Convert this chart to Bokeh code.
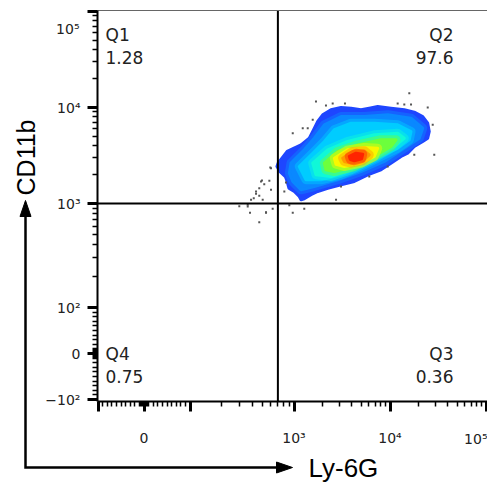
import numpy as np
from bokeh.plotting import figure
from bokeh.models import FixedTicker, Label, Range1d
from bokeh.embed import file_html
from bokeh.resources import INLINE

# ---------------- data ----------------
# quadrant gates
gate_ly6g = 700.0
gate_cd11b = 1000.0
# quadrant statistics
quad_names = ["Q1", "Q2", "Q3", "Q4"]
quad_values = ["1.28", "97.6", "0.36", "0.75"]

# density contour levels (log10 of intensity), outer -> inner
lvl1_x = [2.847, 2.934, 3.073, 3.159, 3.195, 3.247, 3.299, 3.385, 3.490, 3.594, 3.698, 3.784, 3.872, 4.010,
          4.149, 4.253, 4.341, 4.393, 4.409, 4.393, 4.341, 4.253, 4.184, 4.115, 4.010, 3.906, 3.768, 3.628,
          3.490, 3.351, 3.247, 3.177, 3.107, 3.073, 3.055, 3.003, 2.951, 2.934, 2.917, 2.865, 2.836]
lvl1_y = [3.420, 3.542, 3.611, 3.680, 3.750, 3.854, 3.924, 3.976, 4.000, 3.993, 3.976, 3.993, 4.010, 3.993,
          3.976, 3.951, 3.906, 3.836, 3.750, 3.680, 3.646, 3.594, 3.524, 3.490, 3.420, 3.351, 3.299, 3.229,
          3.195, 3.159, 3.125, 3.091, 3.049, 3.039, 3.073, 3.125, 3.159, 3.229, 3.281, 3.333, 3.385]
lvl2_x = [2.971, 3.107, 3.211, 3.316, 3.490, 3.732, 3.976, 4.219, 4.341, 4.305, 4.149, 3.941, 3.698, 3.455,
          3.211, 3.073, 2.988, 2.955]
lvl2_y = [3.420, 3.559, 3.680, 3.820, 3.906, 3.906, 3.924, 3.889, 3.784, 3.680, 3.576, 3.438, 3.333, 3.247,
          3.177, 3.143, 3.229, 3.316]
lvl3_x = [3.055, 3.195, 3.316, 3.420, 3.594, 3.836, 4.080, 4.219, 4.201, 4.080, 3.906, 3.698, 3.490, 3.281, 3.125]
lvl3_y = [3.385, 3.524, 3.646, 3.768, 3.836, 3.836, 3.820, 3.750, 3.664, 3.576, 3.490, 3.385, 3.299, 3.247, 3.247]
lvl4_x = [3.195, 3.351, 3.559, 3.836, 4.080, 4.149, 4.045, 3.836, 3.594, 3.385, 3.229]
lvl4_y = [3.420, 3.559, 3.646, 3.716, 3.732, 3.680, 3.594, 3.472, 3.351, 3.281, 3.299]
lvl5_x = [3.316, 3.455, 3.664, 3.906, 4.063, 4.010, 3.836, 3.628, 3.420, 3.333]
lvl5_y = [3.420, 3.542, 3.611, 3.664, 3.664, 3.594, 3.490, 3.385, 3.333, 3.351]
lvl6_x = [3.420, 3.559, 3.732, 3.872, 3.836, 3.698, 3.524, 3.438]
lvl6_y = [3.472, 3.559, 3.583, 3.576, 3.490, 3.420, 3.385, 3.409]
lvl7_x = [3.507, 3.611, 3.732, 3.784, 3.716, 3.594, 3.524]
lvl7_y = [3.472, 3.542, 3.549, 3.507, 3.445, 3.420, 3.438]
lvl8_x = [3.576, 3.646, 3.716, 3.705, 3.628, 3.587]
lvl8_y = [3.490, 3.524, 3.514, 3.466, 3.445, 3.458]
level_colors = ["#1e46ff", "#0a88ff", "#00ccff", "#10f8d8", "#6cff3c", "#f8f800", "#ff9a00", "#ff2400"]

# sparse events outside the dense region (log10 of intensity)
events_x = [2.772, 2.692, 2.714, 2.763, 2.666, 2.635, 2.666, 2.779, 2.587, 2.613, 2.699, 2.474, 2.555, 2.577,
            2.731, 2.795, 2.666, 2.955, 2.988, 3.107, 2.923, 2.907, 3.229, 3.333, 3.403, 3.531, 4.080, 4.149,
            4.219, 4.393, 4.445, 4.461, 4.253, 3.976, 3.784, 3.490, 3.438, 4.201, 3.195, 3.143, 2.988, 3.091,
            2.779, 2.683, 2.635, 2.555, 2.731]
events_y = [3.375, 3.240, 3.201, 3.236, 3.159, 3.101, 3.080, 3.143, 3.039, 3.055, 3.039, 2.974, 2.988, 2.911,
            2.911, 2.949, 2.820, 2.984, 2.910, 2.949, 3.219, 3.125, 4.063, 4.021, 4.042, 4.042, 4.042, 4.031,
            4.031, 4.000, 3.820, 3.507, 3.507, 3.385, 3.281, 3.177, 3.039, 4.149, 3.872, 3.784, 3.732, 3.784,
            3.368, 3.229, 3.125, 2.971, 2.917]

# axis ticks (intensity)
major_ticks = [-100, 0, 100, 1000, 10000, 100000]
x_tick_labels = ["", "0", "", "10³", "10⁴", ""]
y_tick_labels = ["−10²", "0", "10²", "10³", "10⁴", ""]
minor_ticks = ([s * m for s in (-1, 1) for m in list(range(1, 10)) + list(range(10, 100, 10))] +
               list(range(200, 1000, 100)) + list(range(2000, 10000, 1000)) + list(range(20000, 100000, 10000)))


# ---------------- biexponential-like display transform ----------------
def T(v):
    v = np.asarray(v, dtype=float)
    a = np.abs(v)
    safe = np.maximum(a, 1e-9)
    out = np.where(a <= 100, 0.46 * a,
                   np.where(a <= 1000, 46 + 104 * np.log10(safe / 100), 150 + 96 * np.log10(safe / 1000)))
    return np.sign(v) * out


# plotting region of the dot plot (display units, 1 unit = 1 px)
XS, XE = -46.5, 343.5
YS, YE = -48.0, 343.0

p = figure(width=487, height=488, output_backend="svg", toolbar_location=None,
           x_range=Range1d(-143.5, 343.5), y_range=Range1d(-135, 353),
           min_border=0)
p.grid.visible = False
p.outline_line_color = None
p.background_fill_color = "white"
p.border_fill_color = "white"

# density levels (soft edge + fill for each level)
levels = [(lvl1_x, lvl1_y), (lvl2_x, lvl2_y), (lvl3_x, lvl3_y), (lvl4_x, lvl4_y),
          (lvl5_x, lvl5_y), (lvl6_x, lvl6_y), (lvl7_x, lvl7_y), (lvl8_x, lvl8_y)]
for i, ((lx, ly), c) in enumerate(zip(levels, level_colors)):
    px_ = T(10 ** np.array(lx))
    py_ = T(10 ** np.array(ly))
    if i > 0:
        p.patch(px_, py_, fill_color=None, line_color=c, line_alpha=0.45, line_width=9, line_join="round")
    p.patch(px_, py_, fill_color=c, line_color=c, line_width=3, line_join="round")

# sparse events
p.scatter(T(10 ** np.array(events_x)), T(10 ** np.array(events_y)), marker="square", size=2,
          fill_color="#555555", line_color=None)

# quadrant gates and top border
gx = float(T(gate_ly6g))
gy = float(T(gate_cd11b))
p.segment(x0=[gx, XS], y0=[YS, gy], x1=[gx, XE], y1=[YE, gy], line_color="black", line_width=2)
p.segment(x0=[XS], y0=[YE], x1=[XE], y1=[YE], line_color="#666666", line_width=1)

# axes (library axes drawn at the edges of the dot-plot region)
maj = [float(t) for t in T(major_ticks)]
mnr = [float(t) for t in T(minor_ticks)]
for ax, labs in ((p.xaxis[0], x_tick_labels), (p.yaxis[0], y_tick_labels)):
    ax.ticker = FixedTicker(ticks=maj, minor_ticks=mnr)
    ax.major_label_overrides = {k: v for k, v in zip(maj, labs)}
    ax.axis_line_width = 2
    ax.axis_line_color = "black"
    ax.major_tick_line_width = 3
    ax.major_tick_out = 10
    ax.major_tick_in = 0
    ax.minor_tick_line_width = 1.5
    ax.minor_tick_out = 5
    ax.minor_tick_in = 0
    ax.major_label_text_font = "DejaVu Sans"
    ax.major_label_text_font_size = "14px"
    ax.major_label_text_color = "#222222"
p.xaxis[0].fixed_location = YS
p.xaxis[0].bounds = (XS, XE)
p.yaxis[0].fixed_location = XS
p.yaxis[0].bounds = (YS, YE)
p.xaxis[0].major_label_standoff = 18
p.yaxis[0].major_label_standoff = 7

lab_font = dict(text_font="DejaVu Sans", text_font_size="14px", text_color="#222222")
p.add_layout(Label(x=-64.5, y=325, text="10⁵", text_align="right", text_baseline="middle", **lab_font))
p.add_layout(Label(x=XE, y=-85, text="10⁵", text_align="right", text_baseline="middle", **lab_font))

# quadrant labels
q_font = dict(text_font="DejaVu Sans", text_font_size="17px", text_color="#222222", text_baseline="middle")
qx = {"Q1": (-38.5, "left"), "Q2": (309.5, "right"), "Q3": (309.5, "right"), "Q4": (-38.5, "left")}
qy = {"Q1": 319, "Q2": 319, "Q3": 0, "Q4": 0}
for name, val in zip(quad_names, quad_values):
    x, al = qx[name]
    p.add_layout(Label(x=x, y=qy[name], text=name, text_align=al, **q_font))
    p.add_layout(Label(x=x, y=qy[name] - 23, text=val, text_align=al, **q_font))

# outer axis arrows and titles
p.line(x=[-118.5, -118.5, 135.0], y=[140.0, -114.0, -114.0], line_color="black", line_width=2.5,
       line_join="miter")
p.patches(xs=[[-118.5, -124.0, -113.0], [148.5, 132.5, 132.5]],
          ys=[[153.0, 137.0, 137.0], [-114.0, -108.5, -119.5]], fill_color="black", line_color="black")
p.add_layout(Label(x=-118.5, y=196, text="CD11b", angle=np.pi / 2, text_align="center", text_baseline="middle",
                   text_font="Liberation Sans", text_font_size="25px", text_color="black"))
p.add_layout(Label(x=164.5, y=-114, text="Ly-6G", text_align="left", text_baseline="middle",
                   text_font="Liberation Sans", text_font_size="26px", text_color="black"))

open("out.html", "w").write(file_html(p, INLINE))
